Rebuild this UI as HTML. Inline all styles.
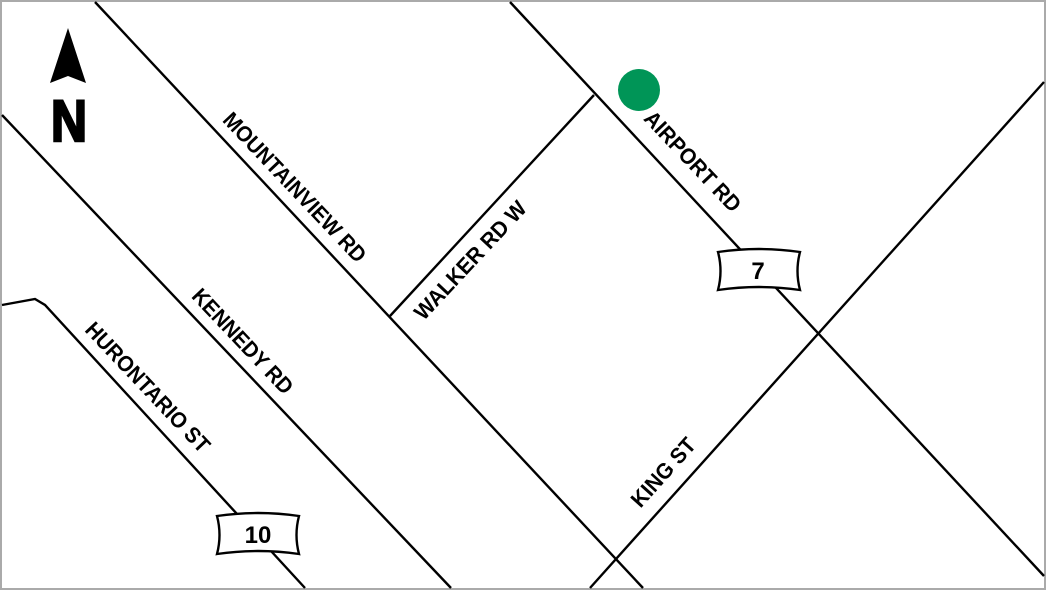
<!DOCTYPE html>
<html><head><style>body{margin:0}svg{display:block}</style></head><body>
<svg width="1046" height="590" viewBox="0 0 1046 590" xmlns="http://www.w3.org/2000/svg">
<rect x="1" y="1" width="1044" height="588" fill="#fff" stroke="#aaa" stroke-width="2"/>
<g stroke="#000" stroke-width="2.4" fill="none">
<line x1="95" y1="2" x2="643" y2="588"/>
<line x1="2" y1="115" x2="451" y2="588"/>
<polyline points="2,305 35,299 45,305 305,588"/>
<line x1="510" y1="2" x2="1044" y2="576"/>
<line x1="390" y1="316" x2="594" y2="95"/>
<line x1="590" y1="588" x2="1044" y2="82"/>
</g>
<circle cx="639" cy="90" r="21" fill="#009557"/>
<polygon points="68,28 86,83 68,76 50,83" fill="#000"/>
<text x="69" y="141" font-family="Liberation Sans" font-weight="bold" font-size="58" text-anchor="middle" stroke="#000" stroke-width="2.5" textLength="36" lengthAdjust="spacingAndGlyphs">N</text>
<g fill="#fff" stroke="#000" stroke-width="2.4">
<path d="M718,252 Q759,246 800,252 Q795,271 800,290 Q759,284 718,290 Q723,271 718,252Z"/>
<path d="M217,516 Q258,510 299,516 Q294,535 299,554 Q258,548 217,554 Q222,535 217,516Z"/>
</g>
<g font-family="Liberation Sans, sans-serif" font-weight="bold" font-size="24" text-anchor="middle">
<text x="758" y="279">7</text>
<text x="258" y="543">10</text>
</g>
<g font-family="Liberation Sans, sans-serif" font-weight="bold" font-size="21" text-anchor="middle">
<text transform="translate(295,187) rotate(46.6) scale(0.9,1.05)" y="7.5" textLength="219" lengthAdjust="spacingAndGlyphs">MOUNTAINVIEW RD</text>
<text transform="translate(693,161) rotate(46.6) scale(0.9,1.05)" y="7.5" textLength="144" lengthAdjust="spacingAndGlyphs">AIRPORT RD</text>
<text transform="translate(243,341) rotate(46.6) scale(0.9,1.05)" y="7.5" textLength="151" lengthAdjust="spacingAndGlyphs">KENNEDY RD</text>
<text transform="translate(148,387) rotate(46.6) scale(0.9,1.05)" y="7.5" textLength="189" lengthAdjust="spacingAndGlyphs">HURONTARIO ST</text>
<text transform="translate(470,260) rotate(-47) scale(0.9,1.05)" y="7.5" textLength="170" lengthAdjust="spacingAndGlyphs">WALKER RD W</text>
<text transform="translate(663,472) rotate(-48) scale(0.9,1.05)" y="7.5" textLength="94" lengthAdjust="spacingAndGlyphs">KING ST</text>
</g>
</svg>
</body></html>
